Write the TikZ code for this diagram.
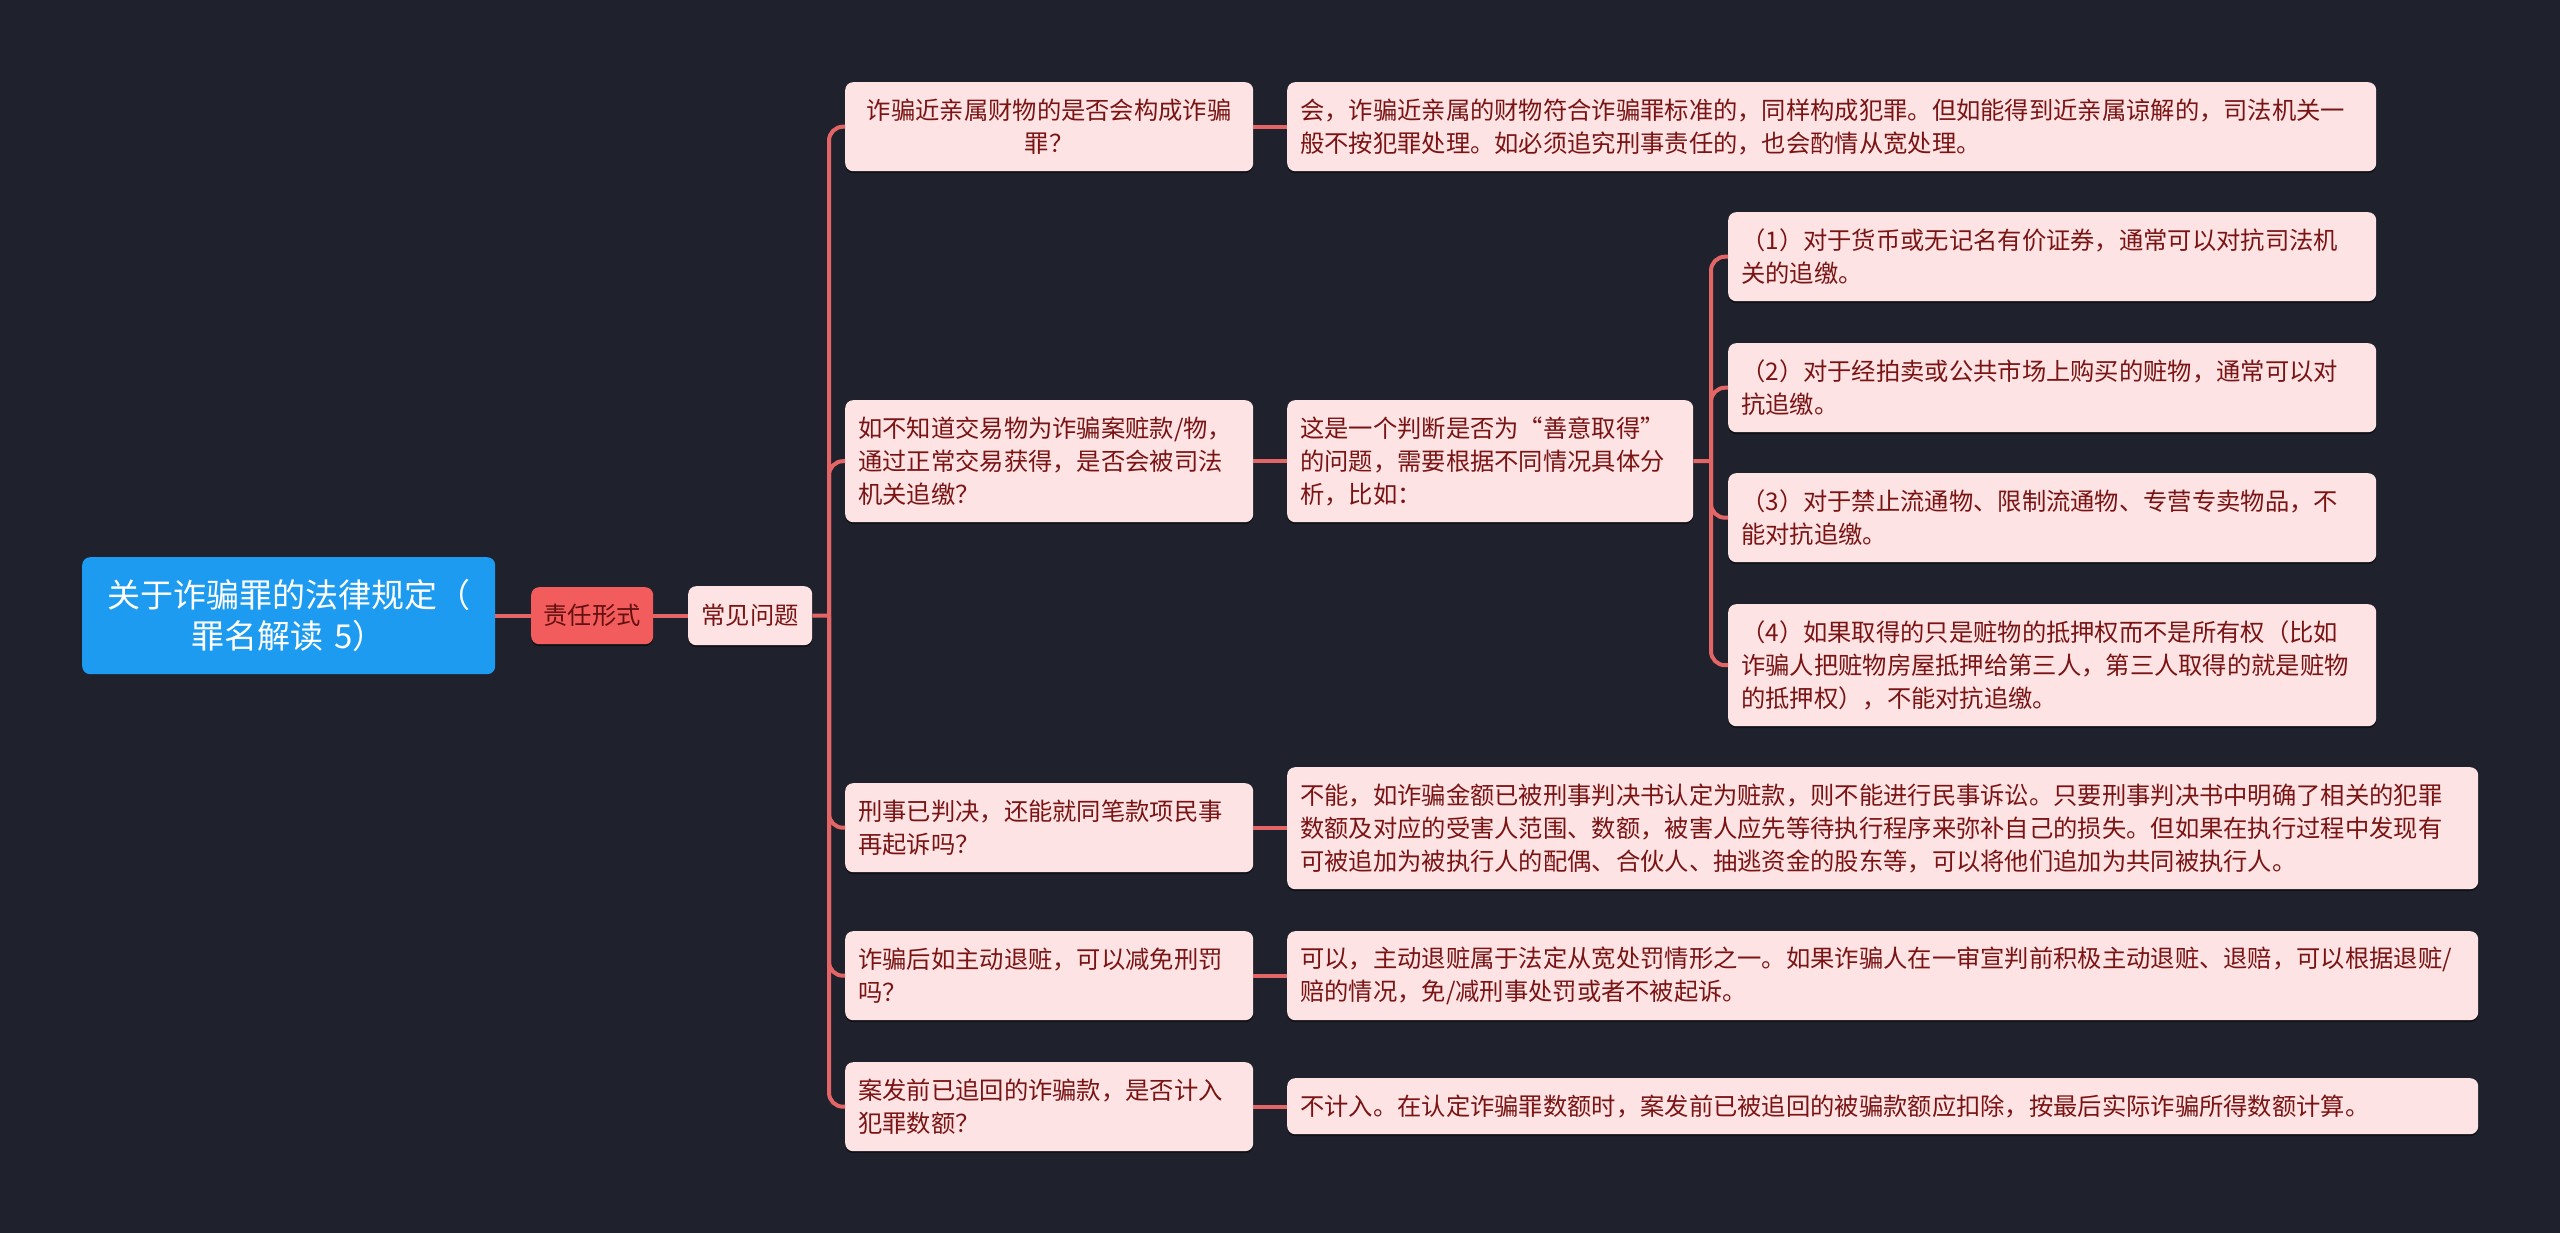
\documentclass[tikz,border=0pt]{standalone}
\usepackage{fontspec}
\setmainfont{Noto Sans CJK SC}
\usetikzlibrary{shadows}
\definecolor{bg}{HTML}{1F222D}
\definecolor{conn}{HTML}{E36565}
\definecolor{pinkfill}{HTML}{FDE3E3}
\definecolor{txt}{HTML}{7A1414}
\definecolor{rootblue}{HTML}{1C9BF0}
\definecolor{redbox}{HTML}{F25C5C}
\begin{document}
\begin{tikzpicture}[x=1pt,y=-1pt,
  box/.style={rectangle, rounded corners=8pt, fill=pinkfill, text=txt, anchor=north west,
    inner xsep=13pt, inner ysep=0pt, font=\fontsize{24.3}{33}\selectfont, align=left,
    drop shadow={shadow xshift=0pt, shadow yshift=-2pt, opacity=0.45, fill=black}},
  rootbox/.style={rectangle, rounded corners=8pt, fill=rootblue, text=white, anchor=north west,
    inner xsep=13pt, inner ysep=0pt, font=\fontsize{33}{41}\selectfont, align=center,
    text width=387pt, minimum height=117pt},
  conn line/.style={draw=conn, line width=4pt},
  branch/.style={conn line, rounded corners=14pt}]
\fill[bg] (0,0) rectangle (2560,1233);

% root and first levels
\node[rootbox] (root) at (82,557) {关于诈骗罪的法律规定（\\罪名解读 5）};
\node[box, fill=redbox, text=txt!80!black, align=center, text width=100pt, inner xsep=11pt, minimum height=57pt] (zr) at (531,587) {责任形式};
\node[box, align=center, text width=100pt, inner xsep=12pt, minimum height=59pt] (cj) at (688,586) {常见问题};

% questions
\node[box, align=center, text width=382pt, minimum height=89pt] (L1) at (845,82) {诈骗近亲属财物的是否会构成诈骗\\罪？};
\node[box, text width=382pt, minimum height=122pt] (L2) at (845,400) {如不知道交易物为诈骗案赃款/物，\\通过正常交易获得，是否会被司法\\机关追缴？};
\node[box, text width=382pt, minimum height=89pt] (L3) at (845,783) {刑事已判决，还能就同笔款项民事\\再起诉吗？};
\node[box, text width=382pt, minimum height=89pt] (L4) at (845,931) {诈骗后如主动退赃，可以减免刑罚\\吗？};
\node[box, text width=382pt, minimum height=89pt] (L5) at (845,1062) {案发前已追回的诈骗款，是否计入\\犯罪数额？};

% answers
\node[box, text width=1063pt, minimum height=89pt] (A1) at (1287,82) {会，诈骗近亲属的财物符合诈骗罪标准的，同样构成犯罪。但如能得到近亲属谅解的，司法机关一\\般不按犯罪处理。如必须追究刑事责任的，也会酌情从宽处理。};
\node[box, text width=380pt, minimum height=122pt] (A2) at (1287,400) {这是一个判断是否为“善意取得”\\的问题，需要根据不同情况具体分\\析，比如：};
\node[box, text width=1165pt, minimum height=122pt] (A3) at (1287,767) {不能，如诈骗金额已被刑事判决书认定为赃款，则不能进行民事诉讼。只要刑事判决书中明确了相关的犯罪\\数额及对应的受害人范围、数额，被害人应先等待执行程序来弥补自己的损失。但如果在执行过程中发现有\\可被追加为被执行人的配偶、合伙人、抽逃资金的股东等，可以将他们追加为共同被执行人。};
\node[box, text width=1165pt, minimum height=89pt] (A4) at (1287,931) {可以，主动退赃属于法定从宽处罚情形之一。如果诈骗人在一审宣判前积极主动退赃、退赔，可以根据退赃/\\赔的情况，免/减刑事处罚或者不被起诉。};
\node[box, text width=1165pt, minimum height=56pt] (A5) at (1287,1078) {不计入。在认定诈骗罪数额时，案发前已被追回的被骗款额应扣除，按最后实际诈骗所得数额计算。};

% sub items
\node[box, text width=622pt, minimum height=89pt] (S1) at (1728,212) {（1）对于货币或无记名有价证券，通常可以对抗司法机\\关的追缴。};
\node[box, text width=622pt, minimum height=89pt] (S2) at (1728,343) {（2）对于经拍卖或公共市场上购买的赃物，通常可以对\\抗追缴。};
\node[box, text width=622pt, minimum height=89pt] (S3) at (1728,473) {（3）对于禁止流通物、限制流通物、专营专卖物品，不\\能对抗追缴。};
\node[box, text width=622pt, minimum height=122pt] (S4) at (1728,604) {（4）如果取得的只是赃物的抵押权而不是所有权（比如\\诈骗人把赃物房屋抵押给第三人，第三人取得的就是赃物\\的抵押权），不能对抗追缴。};

% connectors
\draw[conn line] (root.east) -- (zr.west);
\draw[conn line] (zr.east) -- (cj.west);
\coordinate (j) at (829,615.5);
\draw[conn line] (cj.east) -- (j);
\foreach \c in {L1,L2,L3,L4,L5} {
  \draw[branch] (j) |- (\c.west);
}
\draw[conn line] (L1.east) -- (A1.west);
\draw[conn line] (L2.east) -- (A2.west);
\draw[conn line] (L3.east) -- (L3.east -| A3.west);
\draw[conn line] (L4.east) -- (A4.west);
\draw[conn line] (L5.east) -- (L5.east -| A5.west);
\coordinate (k) at (1711,461);
\draw[conn line] (A2.east) -- (k);
\foreach \c in {S1,S2,S3,S4} {
  \draw[branch] (k) |- (\c.west);
}
\end{tikzpicture}
\end{document}
